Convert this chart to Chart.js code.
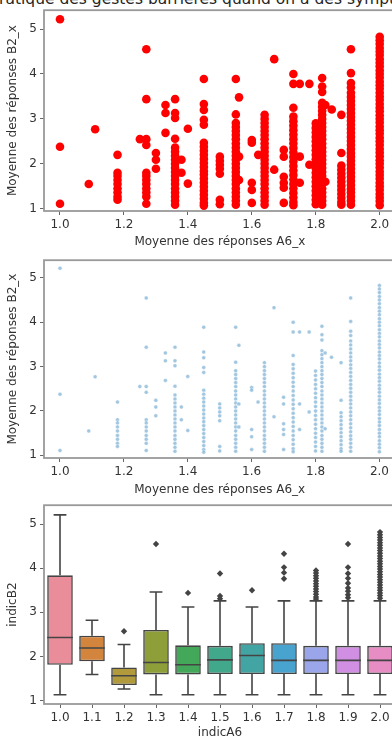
<!DOCTYPE html>
<html>
<head>
<meta charset="utf-8">
<script src="https://cdn.jsdelivr.net/npm/chart.js@4.4.1/dist/chart.umd.min.js"></script>
<style>
  html, body { margin: 0; padding: 0; background: #fff; overflow: hidden; width: 392px; height: 740px; }
  canvas { position: absolute; left: 0; }
  #title { position: absolute; left: -10px; top: -8px; font: 15.5px 'DejaVu Sans'; line-height: 15.5px; white-space: nowrap; color: #262626; }
</style>
</head>
<body>
<div id="title">Pratique des gestes barrières quand on a des symptômes</div>
<canvas id="redScatter" width="400" height="250" style="top:0"></canvas>
<canvas id="blueScatter" width="400" height="250" style="top:250px"></canvas>
<canvas id="boxes" width="400" height="245" style="top:495px"></canvas>
<script>
// A6 mean (x) -> B2 mean values (y) read column by column
const xA6 = [1.0, 1.09, 1.11, 1.18, 1.25, 1.27, 1.3, 1.33, 1.36, 1.38, 1.4, 1.45, 1.5, 1.55, 1.56,
  1.6, 1.62, 1.64, 1.67, 1.7, 1.73, 1.75, 1.78, 1.8, 1.82, 1.83, 1.85, 1.88, 1.91, 2.0];
const yB2 = [
  [5.22, 2.38, 1.11],
  [1.55],
  [2.77],
  [2.2, 1.8, 1.73, 1.64, 1.55, 1.45, 1.36, 1.27, 1.2],
  [2.55],
  [4.55, 3.44, 2.55, 2.42, 1.8, 1.73, 1.64, 1.55, 1.45, 1.36, 1.27, 1.11],
  [2.24, 2.09, 1.89],
  [3.31, 3.13, 2.69],
  [3.44, 3.13, 3.02, 2.56, 2.36, 2.27, 2.18, 2.09, 2.0, 1.91, 1.82, 1.73, 1.64, 1.55, 1.45, 1.36, 1.27, 1.18, 1.09],
  [2.09, 1.8],
  [2.78, 1.56],
  [3.89, 3.33, 3.2, 2.98, 2.87, 2.47, 2.38, 2.29, 2.2, 2.11, 2.02, 1.93, 1.84, 1.76, 1.67, 1.58, 1.49, 1.4, 1.31, 1.22, 1.13, 1.07],
  [2.16, 2.07, 1.98, 1.89, 1.78, 1.2, 1.1],
  [3.89, 3.1, 2.91, 2.82, 2.73, 2.64, 2.55, 2.45, 2.36, 2.27, 2.18, 2.09, 2.0, 1.91, 1.82, 1.73, 1.64, 1.55, 1.45, 1.36, 1.27, 1.18, 1.09],
  [3.48, 2.16, 1.64],
  [2.53, 2.47, 1.58, 1.42, 1.13],
  [2.2],
  [3.09, 3.0, 2.91, 2.82, 2.73, 2.64, 2.55, 2.45, 2.36, 2.27, 2.18, 2.09, 2.0, 1.91, 1.82, 1.73, 1.64, 1.55, 1.45, 1.36, 1.27, 1.18, 1.09],
  [4.33, 1.87],
  [2.31, 2.16, 1.71, 1.58, 1.47, 1.13],
  [4.0, 3.78, 3.25, 3.05, 2.95, 2.85, 2.75, 2.65, 2.55, 2.45, 2.35, 2.25, 2.15, 2.05, 1.95, 1.85, 1.75, 1.65, 1.55, 1.45, 1.35, 1.25, 1.15, 1.08],
  [3.78, 2.16, 1.58],
  [3.78, 1.98],
  [2.9, 2.8, 2.7, 2.6, 2.5, 2.4, 2.3, 2.2, 2.1, 2.0, 1.9, 1.8, 1.7, 1.6, 1.5, 1.4, 1.3, 1.2, 1.1],
  [3.91, 3.72, 3.6, 3.36, 3.27, 3.18, 3.09, 3.0, 2.91, 2.82, 2.73, 2.64, 2.55, 2.45, 2.36, 2.27, 2.18, 2.09, 2.0, 1.91, 1.82, 1.73, 1.64, 1.55, 1.45, 1.36, 1.27, 1.18, 1.09],
  [3.31, 1.6],
  [3.21],
  [3.09, 2.24, 1.96, 1.87, 1.78, 1.69, 1.6, 1.51, 1.42, 1.33, 1.24, 1.15, 1.09],
  [4.55, 4.02, 3.8, 3.7, 3.58, 3.49, 3.4, 3.31, 3.22, 3.13, 3.04, 2.96, 2.87, 2.78, 2.69, 2.6, 2.51, 2.42, 2.33, 2.24, 2.16, 2.07, 1.98, 1.89, 1.8, 1.71, 1.62, 1.53, 1.44, 1.36, 1.27, 1.18, 1.09],
  [4.83, 4.75, 4.67, 4.58, 4.5, 4.42, 4.33, 4.25, 4.17, 4.08, 4.0, 3.92, 3.83, 3.75, 3.67, 3.58, 3.5, 3.42, 3.33, 3.25, 3.17, 3.08, 3.0, 2.92, 2.83, 2.75, 2.67, 2.58, 2.5, 2.42, 2.33, 2.25, 2.17, 2.08, 2.0, 1.92, 1.83, 1.75, 1.67, 1.58, 1.5, 1.42, 1.33, 1.25, 1.17, 1.08]
];

const xTicks = [1.0, 1.2, 1.4, 1.6, 1.8, 2.0];
const yTicks = [1, 2, 3, 4, 5];

// boxplot of indicB2 by indicA6
const boxLabels = ['1.0', '1.1', '1.2', '1.3', '1.4', '1.5', '1.6', '1.7', '1.8', '1.9', '2.0'];
const boxQ1 = [1.81, 1.89, 1.35, 1.59, 1.59, 1.6, 1.6, 1.6, 1.6, 1.6, 1.6];
const boxMed = [2.43, 2.19, 1.56, 1.86, 1.81, 1.92, 2.02, 1.91, 1.91, 1.91, 1.91];
const boxQ3 = [3.84, 2.47, 1.75, 2.6, 2.25, 2.24, 2.3, 2.3, 2.24, 2.24, 2.24];
const whiskLo = [1.13, 1.59, 1.26, 1.13, 1.13, 1.13, 1.13, 1.13, 1.13, 1.13, 1.13];
const whiskHi = [5.21, 2.82, 2.27, 3.46, 3.12, 3.26, 3.12, 3.26, 3.26, 3.26, 3.26];
const outliers = [
  [], [], [2.57], [4.55], [3.44], [3.88, 3.37, 3.31], [3.5], [4.33, 4.02, 3.9, 3.76],
  [3.95, 3.89, 3.83, 3.77, 3.71, 3.65, 3.59, 3.53, 3.47, 3.41, 3.35, 3.3],
  [4.55, 4.02, 3.88, 3.77, 3.66, 3.55, 3.48, 3.4, 3.33],
  [4.82, 4.76, 4.7, 4.64, 4.58, 4.52, 4.46, 4.4, 4.34, 4.28, 4.22, 4.16, 4.1, 4.04, 3.98, 3.92, 3.86, 3.8, 3.74, 3.68, 3.62, 3.56, 3.5, 3.44, 3.38, 3.32]
];
const boxColors = ['#e88d99', '#d3843d', '#b09a3c', '#8e9f3a', '#44a85b', '#42a88c', '#43a5a3', '#48a3cf', '#9aa5ea', '#d18fe3', '#e78dc4'];

const INK = '#333';
const SPINE = '#999';
const EDGE = '#444';

Chart.defaults.font.family = "'DejaVu Sans', sans-serif";
Chart.defaults.font.size = 12;
Chart.defaults.color = INK;
Chart.defaults.animation = false;
Chart.defaults.plugins.legend.display = false;
Chart.defaults.plugins.tooltip.enabled = false;

const spines = {
  id: 'spines',
  afterDraw(chart) {
    const { ctx, chartArea: a } = chart;
    ctx.save();
    ctx.strokeStyle = SPINE;
    ctx.lineWidth = 1.8;
    ctx.strokeRect(a.left, a.top, a.right - a.left, a.bottom - a.top);
    ctx.restore();
  }
};

const points = xA6.flatMap((x, i) => yB2[i].map(y => ({ x: x, y: y })));

function yAxis(min, max, title) {
  return {
    min: min, max: max,
    border: { display: false },
    grid: { drawOnChartArea: false, tickLength: 4, tickColor: '#666' },
    ticks: { padding: 3, color: INK },
    afterBuildTicks: s => { s.ticks = yTicks.map(v => ({ value: v })); },
    afterFit: s => { s.width = 44; },
    title: { display: true, text: title, color: INK, padding: { top: 6, bottom: 0 } }
  };
}

function xLinear(h, pad) {
  return {
    type: 'linear', min: 0.95, max: 2.05,
    border: { display: false },
    grid: { drawOnChartArea: false, tickLength: 4, tickColor: '#666' },
    ticks: { padding: 3, color: INK, maxRotation: 0, callback: v => v.toFixed(1) },
    afterBuildTicks: s => { s.ticks = xTicks.map(v => ({ value: v })); },
    afterFit: s => { s.height = h; },
    title: { display: true, text: 'Moyenne des réponses A6_x', color: INK, padding: { top: 0, bottom: pad } }
  };
}

new Chart(document.getElementById('redScatter'), {
  type: 'scatter',
  data: { datasets: [{ data: points, backgroundColor: '#ff0000', borderWidth: 0, pointRadius: 4.3 }] },
  options: {
    responsive: false,
    layout: { padding: { top: 10, right: 3, bottom: 0, left: 0 } },
    scales: { x: xLinear(39, 1), y: yAxis(0.95, 5.42, 'Moyenne des réponses B2_x') }
  },
  plugins: [spines]
});

new Chart(document.getElementById('blueScatter'), {
  type: 'scatter',
  data: { datasets: [{ data: points, backgroundColor: 'rgba(31,119,180,0.42)', borderColor: 'rgba(255,255,255,0.7)', borderWidth: 0.6, pointRadius: 2 }] },
  options: {
    responsive: false,
    layout: { padding: { top: 5, right: 3, bottom: 0, left: 0 } },
    scales: { x: xLinear(42, 3), y: yAxis(0.94, 5.4, 'Moyenne des réponses B2_x') }
  },
  plugins: [spines]
});

const whiskers = {
  id: 'whiskers',
  afterDatasetsDraw(chart) {
    const { ctx, scales: { x, y } } = chart;
    const bars = chart.getDatasetMeta(0).data;
    ctx.save();
    ctx.strokeStyle = EDGE;
    ctx.lineWidth = 1.6;
    boxLabels.forEach((lab, i) => {
      const cx = x.getPixelForValue(i);
      const half = bars[i].width / 2;
      const cap = half * 0.5;
      ctx.beginPath();
      ctx.moveTo(cx, y.getPixelForValue(boxQ3[i]));
      ctx.lineTo(cx, y.getPixelForValue(whiskHi[i]));
      ctx.moveTo(cx, y.getPixelForValue(boxQ1[i]));
      ctx.lineTo(cx, y.getPixelForValue(whiskLo[i]));
      ctx.moveTo(cx - cap, y.getPixelForValue(whiskHi[i]));
      ctx.lineTo(cx + cap, y.getPixelForValue(whiskHi[i]));
      ctx.moveTo(cx - cap, y.getPixelForValue(whiskLo[i]));
      ctx.lineTo(cx + cap, y.getPixelForValue(whiskLo[i]));
      ctx.moveTo(cx - half, y.getPixelForValue(boxMed[i]));
      ctx.lineTo(cx + half, y.getPixelForValue(boxMed[i]));
      ctx.stroke();
    });
    ctx.restore();
  }
};

new Chart(document.getElementById('boxes'), {
  type: 'bar',
  data: {
    labels: boxLabels,
    datasets: [
      {
        data: boxQ1.map((q, i) => [q, boxQ3[i]]),
        backgroundColor: boxColors,
        borderColor: EDGE,
        borderWidth: 1.6,
        borderSkipped: false,
        barPercentage: 0.8,
        categoryPercentage: 1
      },
      {
        type: 'scatter',
        data: outliers.flatMap((list, i) => list.map(v => ({ x: boxLabels[i], y: v }))),
        pointStyle: 'rectRot',
        pointRadius: 3.2,
        backgroundColor: EDGE,
        borderColor: EDGE,
        borderWidth: 0
      }
    ]
  },
  options: {
    responsive: false,
    layout: { padding: { top: 5, right: 3, bottom: 0, left: 0 } },
    scales: {
      x: {
        type: 'category', labels: boxLabels, offset: true,
        border: { display: false },
        grid: { drawOnChartArea: false, offset: false, tickLength: 4, tickColor: '#666' },
        ticks: { padding: 3, color: INK, maxRotation: 0, autoSkip: false },
        afterFit: s => { s.height = 36; },
        title: { display: true, text: 'indicA6', color: INK, padding: { top: 0, bottom: 0 } }
      },
      y: yAxis(0.92, 5.43, 'indicB2')
    }
  },
  plugins: [whiskers, spines]
});
</script>
</body>
</html>
